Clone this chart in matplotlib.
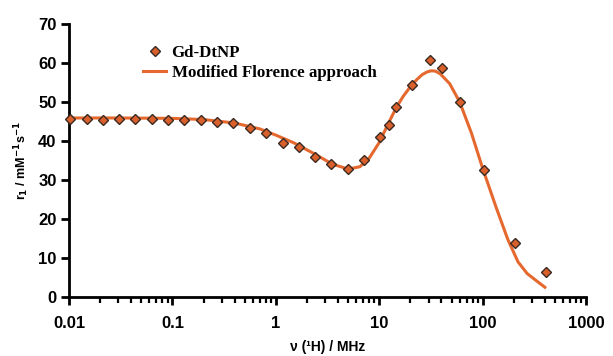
import numpy as np
import matplotlib
matplotlib.use('Agg')
import matplotlib.pyplot as plt
from matplotlib.ticker import LogLocator, FixedLocator, NullFormatter

plt.rcParams['mathtext.default'] = 'bf'

# measured relaxivity, Gd-DtNP
freq = [0.0102, 0.0148, 0.0215, 0.0306, 0.0437, 0.063, 0.0912, 0.130, 0.189,
        0.272, 0.388, 0.562, 0.804, 1.17, 1.68, 2.39, 3.42, 4.95, 7.18, 10.2,
        12.3, 14.4, 20.6, 31.0, 40.7, 60.8, 102.6, 205.6, 407]
r1 = [45.6, 45.6, 45.5, 45.6, 45.6, 45.6, 45.5, 45.5, 45.3, 44.8, 44.5, 43.4,
      42.1, 39.6, 38.5, 35.9, 34.0, 32.7, 35.1, 40.9, 44.0, 48.7, 54.3, 60.7,
      58.7, 50.0, 32.5, 13.9, 6.4]

# fitted curve (modified Florence approach)
fit_freq = [0.01, 0.03, 0.1, 0.2, 0.4, 0.7, 1.0, 1.5, 2.4, 3.5, 5.0, 6.5, 8.0,
            10, 12, 14.5, 17, 20, 23, 26, 29, 32, 35, 39, 48, 60, 78, 100, 135,
            175, 220, 270, 330, 400]
fit_r1 = [45.9, 45.9, 45.8, 45.5, 44.6, 43.1, 41.5, 39.5, 36.6, 34.1, 32.8,
          33.4, 35.6, 39.6, 44.0, 48.4, 51.4, 53.9, 55.7, 57.0, 57.7, 58.0,
          57.9, 57.2, 54.7, 50.0, 42.0, 33.0, 23.0, 14.8, 9.0, 6.0, 4.2, 2.5]

orange = '#E5692F'

fig = plt.figure(figsize=(6.13, 3.56), dpi=100)
ax = fig.add_axes([0.1126, 0.1657, 0.8434, 0.767])

ax.plot(fit_freq, fit_r1, color=orange, lw=2.2, label='Modified Florence approach',
        zorder=2, clip_on=False)
ax.plot(freq, r1, ls='none', marker='D', ms=5.5, mfc='#D9602A', mec='#3b2a22',
        mew=1.0, label='Gd-DtNP', zorder=3, clip_on=False)

ax.set_xscale('log')
ax.set_xlim(0.01, 1000)
ax.set_ylim(0, 70)
ax.set_yticks(range(0, 71, 10))
ax.xaxis.set_major_locator(FixedLocator([0.01, 0.1, 1, 10, 100, 1000]))
ax.xaxis.set_minor_locator(LogLocator(base=10, subs=np.arange(2, 10), numticks=20))
ax.xaxis.set_minor_formatter(NullFormatter())
ax.set_xticklabels(['0.01', '0.1', '1', '10', '100', '1000'])

for s in ['top', 'right']:
    ax.spines[s].set_visible(False)
for s in ['left', 'bottom']:
    ax.spines[s].set_linewidth(2)

ax.tick_params(which='major', length=6, width=2, direction='out', labelsize=12)
ax.tick_params(axis='x', which='major', pad=8)
ax.tick_params(axis='y', which='major', pad=3)
ax.tick_params(which='minor', length=4, width=1.6, direction='out')
for lab in ax.get_xticklabels() + ax.get_yticklabels():
    lab.set_fontweight('bold')
    lab.set_family('Liberation Sans')

ax.set_xlabel('ν (¹H) / MHz', fontsize=10, fontweight='bold',
              family='Liberation Sans', labelpad=6)
ax.set_ylabel(r'r$_1$ / mM$^{-1}$s$^{-1}$', fontsize=9,
              fontweight='bold', family='Liberation Sans', labelpad=5)

handles, labels = ax.get_legend_handles_labels()
ax.legend(handles[::-1], labels[::-1], loc='upper left', bbox_to_anchor=(0.113, 0.978),
          frameon=False, handlelength=1.4, handletextpad=0.3, labelspacing=0.2,
          prop={'family': 'Liberation Serif', 'weight': 'bold', 'size': 12.2})

fig.savefig('out.png', dpi=100)
